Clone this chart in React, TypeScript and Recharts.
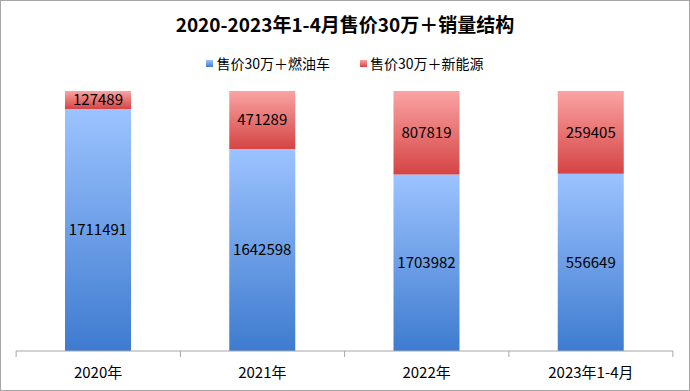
import { Bar, BarChart, LabelList, XAxis, YAxis } from "recharts";

const categories = ["2020年", "2021年", "2022年", "2023年1-4月"];
const fuelSales = [1711491, 1642598, 1703982, 556649];
const nevSales = [127489, 471289, 807819, 259405];

const data = categories.map((name, i) => ({ name, fuel: fuelSales[i], nev: nevSales[i] }));

const FONT = '"Noto Sans CJK SC", "Microsoft YaHei", sans-serif';
const HALF_BAND = 82;

function AxisTick(props: any) {
  const { x, y, payload, index } = props;
  return (
    <g>
      <line x1={x - HALF_BAND} y1={y - 8} x2={x - HALF_BAND} y2={y - 2} stroke="#a6a6a6" />
      {index === categories.length - 1 && (
        <line x1={x + HALF_BAND} y1={y - 8} x2={x + HALF_BAND} y2={y - 2} stroke="#a6a6a6" />
      )}
      <text x={x} y={y + 19} textAnchor="middle" fontSize={15} fill="#000" fontFamily={FONT}>
        {payload.value}
      </text>
    </g>
  );
}

export default function App() {
  return (
    <div
      style={{
        position: "absolute",
        left: 0,
        top: 0,
        width: 688,
        height: 389,
        border: "1px solid #a6a6a6",
        background: "#fff",
        fontFamily: FONT,
      }}
    >
      <div
        style={{
          position: "absolute",
          top: 9,
          width: "100%",
          textAlign: "center",
          fontSize: 19,
          fontWeight: "bold",
          color: "#000",
        }}
      >
        2020-2023年1-4月售价30万＋销量结构
      </div>
      <div
        style={{
          position: "absolute",
          top: 52,
          width: "100%",
          display: "flex",
          justifyContent: "center",
          gap: 30,
          fontSize: 14,
          color: "#000",
        }}
      >
        <span style={{ display: "flex", alignItems: "center", gap: 3 }}>
          <span style={{ width: 7, height: 7, background: "linear-gradient(#9cc3ff, #3f7ccf)" }} />
          售价30万＋燃油车
        </span>
        <span style={{ display: "flex", alignItems: "center", gap: 3 }}>
          <span style={{ width: 7, height: 7, background: "linear-gradient(#fba3a3, #d74545)" }} />
          售价30万＋新能源
        </span>
      </div>
      <div style={{ position: "absolute", left: 0, top: 0 }}>
        <BarChart
          width={688}
          height={389}
          data={data}
          stackOffset="expand"
          margin={{ top: 90, right: 16, bottom: 5, left: 15 }}
        >
          <defs>
            <linearGradient id="gBlue" x1="0" y1="0" x2="0" y2="1">
              <stop offset="0%" stopColor="#9cc3ff" />
              <stop offset="100%" stopColor="#3e7bcf" />
            </linearGradient>
            <linearGradient id="gRed" x1="0" y1="0" x2="0" y2="1">
              <stop offset="0%" stopColor="#fba3a3" />
              <stop offset="100%" stopColor="#d54444" />
            </linearGradient>
          </defs>
          <XAxis
            dataKey="name"
            axisLine={{ stroke: "#a6a6a6" }}
            tickLine={false}
            tick={<AxisTick />}
            height={34}
            interval={0}
          />
          <YAxis hide domain={[0, 1]} />
          <Bar dataKey="fuel" stackId="a" fill="url(#gBlue)" barSize={66} isAnimationActive={false}>
            <LabelList dataKey="fuel" position="center" fill="#000" fontSize={15} fontFamily={FONT} />
          </Bar>
          <Bar dataKey="nev" stackId="a" fill="url(#gRed)" barSize={66} isAnimationActive={false}>
            <LabelList dataKey="nev" position="center" fill="#000" fontSize={15} fontFamily={FONT} />
          </Bar>
        </BarChart>
      </div>
    </div>
  );
}
